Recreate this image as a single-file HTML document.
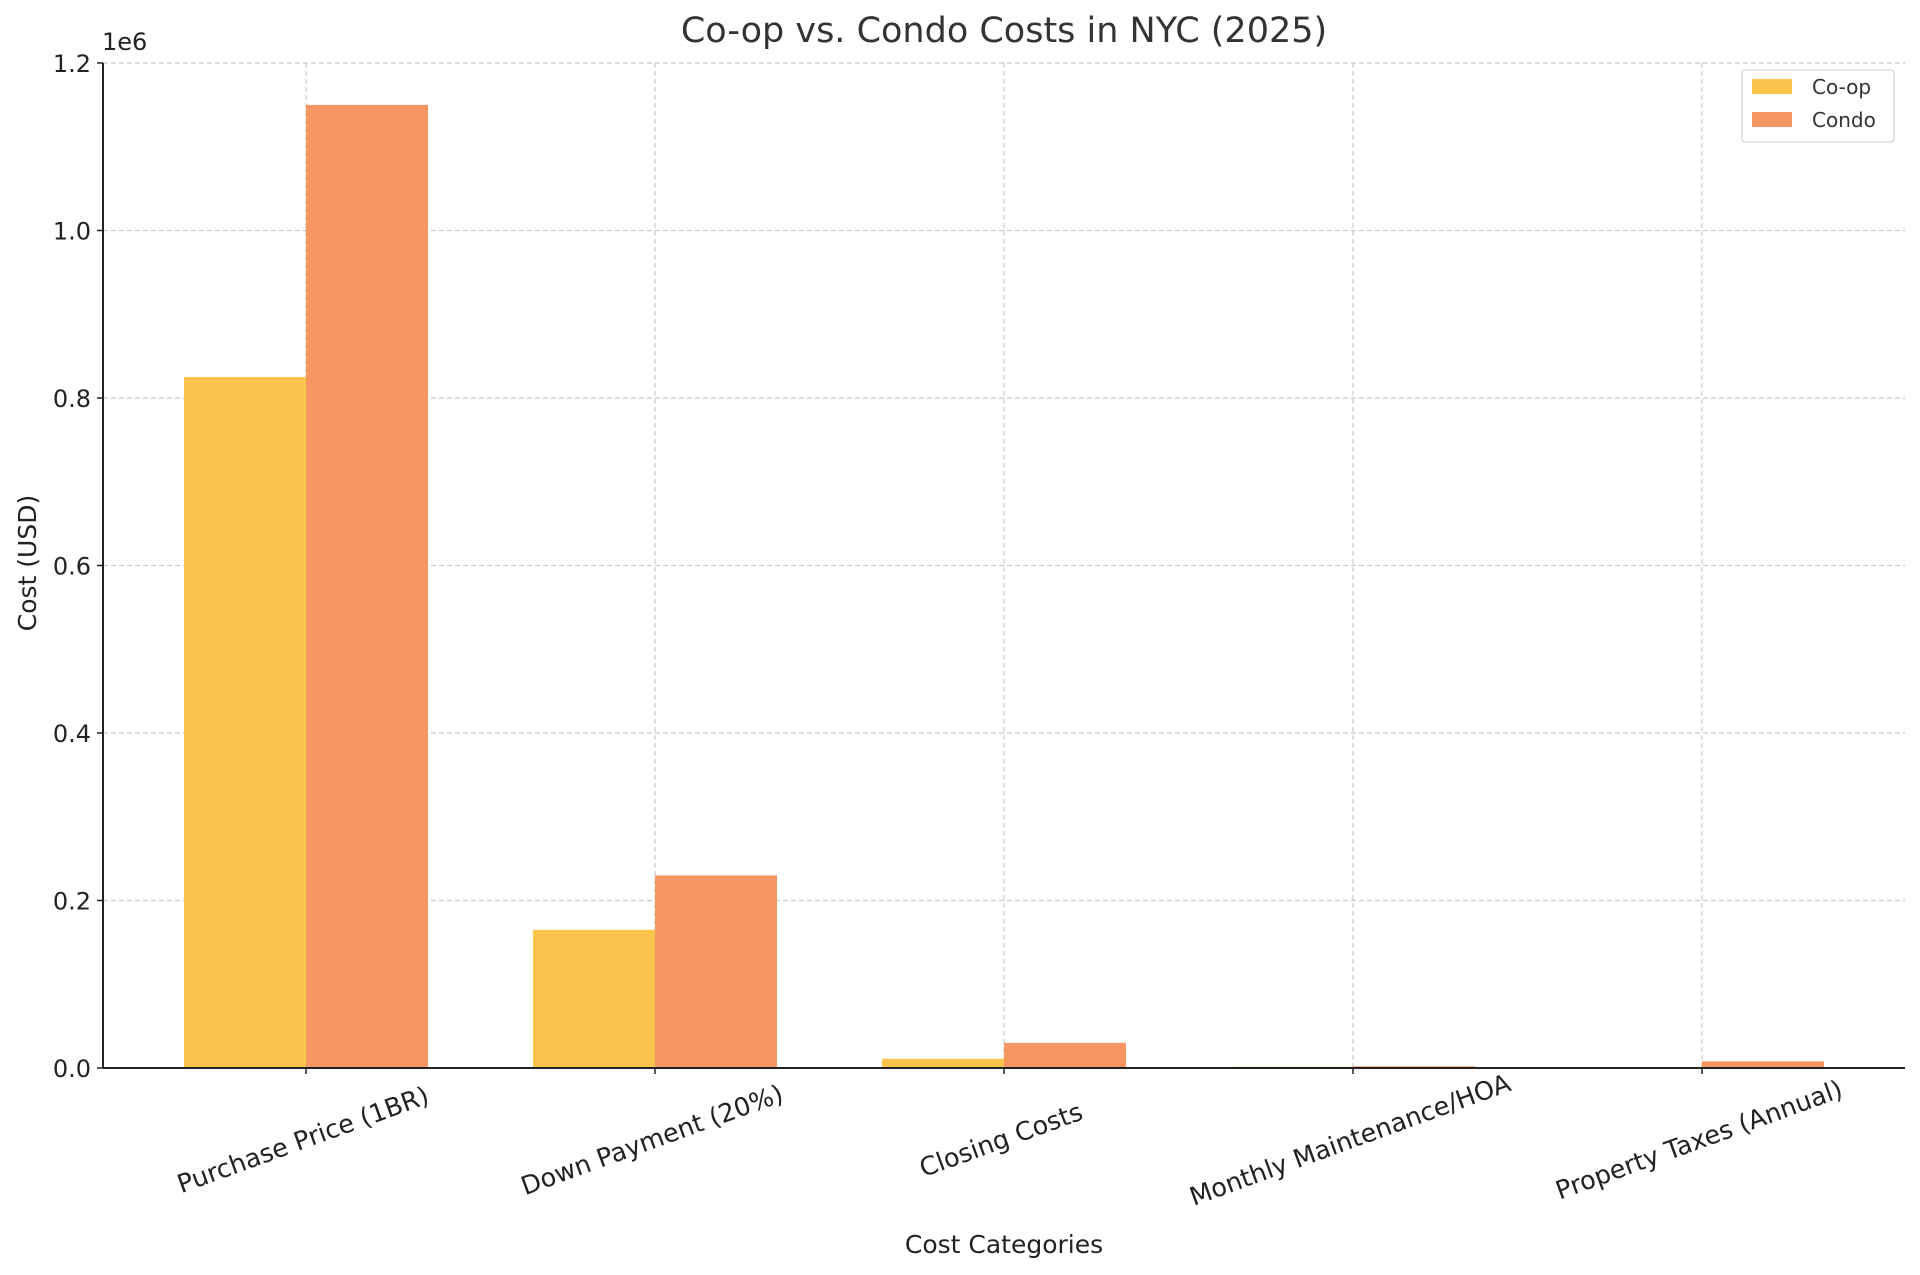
<!DOCTYPE html>
<html><head><meta charset="utf-8"><style>
html,body{margin:0;padding:0;background:#fff;}
svg{display:block;font-family:"DejaVu Sans","Liberation Sans",sans-serif;}
</style></head><body>
<svg id="chart" width="1920" height="1275" viewBox="0 0 1920 1275" xmlns="http://www.w3.org/2000/svg">
<text x="1004" y="42" font-size="35" fill="#333" text-anchor="middle">Co-op vs. Condo Costs in NYC (2025)</text>
<g id="grid"></g>
<g id="bars"></g>
<g id="axes"></g>
<text x="1004" y="1253" font-size="25" fill="#222" text-anchor="middle">Cost Categories</text>
<text transform="translate(36,563) rotate(-90)" font-size="25" fill="#222" text-anchor="middle">Cost (USD)</text>
<text x="102" y="50" font-size="24" fill="#222">1e6</text>
<g>
<rect x="1742" y="70" width="152" height="72" fill="#fff" stroke="#ccc" rx="3"/>
<rect x="1752" y="79" width="40" height="15" fill="#fdc44d"/>
<text x="1812" y="94" font-size="20" fill="#333">Co-op</text>
<rect x="1752" y="112" width="40" height="15" fill="#f69663"/>
<text x="1812" y="127" font-size="20" fill="#333">Condo</text>
</g>
</svg>
<script>
const categories = ["Purchase Price (1BR)", "Down Payment (20%)", "Closing Costs", "Monthly Maintenance/HOA", "Property Taxes (Annual)"];
const coopValues = [825000, 165000, 11000, 1500, 1000];
const condoValues = [1150000, 230000, 30000, 2000, 8000];
const yTicks = [0, 0.2, 0.4, 0.6, 0.8, 1.0, 1.2];
const yTickLabels = ["0.0", "0.2", "0.4", "0.6", "0.8", "1.0", "1.2"];

const NS = "http://www.w3.org/2000/svg";
const L = 103, R = 1905, T = 63, B = 1068;
const step = 349, x0 = 306, barW = 122;
const xPos = i => x0 + i * step;
const yPos = v => B - (v / 1.2e6) * (B - T);
function mk(tag, attrs, parent) {
  const e = document.createElementNS(NS, tag);
  for (const k in attrs) e.setAttribute(k, attrs[k]);
  parent.appendChild(e);
  return e;
}
const grid = document.getElementById("grid");
const bars = document.getElementById("bars");
const axes = document.getElementById("axes");

yTicks.forEach((t, i) => {
  const y = yPos(t * 1e6);
  const g = mk("line", {x1: L, x2: R, y1: y, y2: y, stroke: "#c8c8c8", "stroke-width": 1.2, "stroke-dasharray": "5,3"}, grid);
  
  
  const tk = mk("line", {x1: L - 6, x2: L, y1: y, y2: y, stroke: "#222", "stroke-width": 1.5}, axes);
  
  
  const tx = mk("text", {x: L - 12, y: y + 9, "font-size": 24, fill: "#222", "text-anchor": "end"}, axes);
  tx.textContent = yTickLabels[i];
  
  
});
categories.forEach((c, i) => {
  const x = xPos(i);
  const g = mk("line", {x1: x, x2: x, y1: T, y2: B, stroke: "#c8c8c8", "stroke-width": 1.2, "stroke-dasharray": "5,3"}, grid);
  
  
  const b1 = mk("rect", {x: x - barW, y: yPos(coopValues[i]), width: barW, height: B - yPos(coopValues[i]), fill: "#fdc44d"}, bars);
  
  
  const b2 = mk("rect", {x: x, y: yPos(condoValues[i]), width: barW, height: B - yPos(condoValues[i]), fill: "#f69663"}, bars);
  
  
  const tk = mk("line", {x1: x, x2: x, y1: B, y2: B + 6, stroke: "#222", "stroke-width": 1.5}, axes);
  
  
  const tx = mk("text", {transform: `translate(${x},${1148}) rotate(-20)`, "font-size": 25.5, fill: "#222", "text-anchor": "middle"}, axes);
  tx.textContent = c;
  
  
});
const ya = mk("line", {x1: L, x2: L, y1: T, y2: B, stroke: "#222", "stroke-width": 2}, axes);


const xa = mk("line", {x1: L, x2: R, y1: B, y2: B, stroke: "#222", "stroke-width": 2}, axes);


</script>
</body></html>
